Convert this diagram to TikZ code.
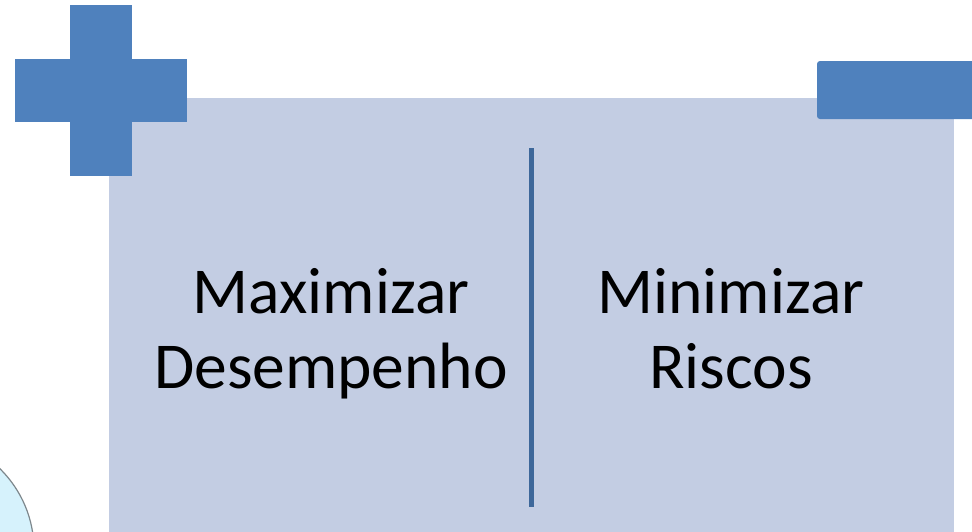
\documentclass[tikz,border=0pt]{standalone}
\usepackage{fontspec}
\setmainfont{Carlito}
\usepackage{tikz}
\usetikzlibrary{positioning}
\definecolor{PanelFill}{RGB}{195,205,227}
\definecolor{SignBlue}{RGB}{79,129,189}
\definecolor{RuleBlue}{RGB}{61,103,154}
\definecolor{BubbleFill}{RGB}{214,242,252}
\definecolor{BubbleEdge}{RGB}{125,135,140}

\begin{document}
\begin{tikzpicture}[
    x=1pt, y=-1pt,
    sign/.style={fill=SignBlue, draw=none},
    goal/.style={font=\fontsize{65.5}{75}\selectfont, align=center, text=black, inner sep=0pt, anchor=base},
]
\useasboundingbox (0,0) rectangle (972,531);
\clip (0,0) rectangle (972,531);
% bubble in the corner
\draw[fill=BubbleFill, draw=BubbleEdge, line width=1.2pt] (-80,550) circle[radius=114];
% panel
\fill[PanelFill] (109,98) rectangle (954,540);
% plus and minus
\fill[sign] (70,5) rectangle (132,176);
\fill[sign] (15,59) rectangle (187,122);
\fill[sign, rounded corners=3pt] (817,61) rectangle (990,119);
% divider
\coordinate (top) at (531.5,148);
\coordinate (bot) at (531.5,507);
\draw[RuleBlue, line width=5pt] (top) -- (bot);
% texts
\node[goal] (maxi) at (331,388) {Maximizar\\Desempenho};
\node[goal] (mini) at (731,388) {Minimizar\\Riscos};
\end{tikzpicture}
\end{document}
